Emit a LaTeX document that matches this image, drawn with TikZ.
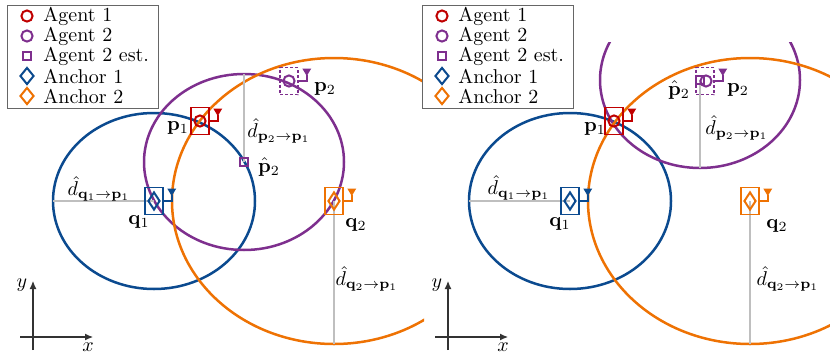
\documentclass[tikz,border=0pt]{standalone}
\usetikzlibrary{shapes.geometric,arrows.meta,calc}
\definecolor{cred}{HTML}{C00000}
\definecolor{cpur}{HTML}{7E2F8E}
\definecolor{cblu}{HTML}{0B4A8F}
\definecolor{corg}{HTML}{EE7203}
\newcommand\myantenna[2]{%
  \draw[#2,line width=0.75pt] (#1.east) -- ++(8,0) coordinate (#1t) -- ++(0,-6);
  \fill[#2] ($(#1t)+(0,-5)$) -- ++(-4.5,-7.5) -- ++(9,0) -- cycle;}
\begin{document}
\begin{tikzpicture}[x=0.5pt,y=-0.5pt,
  rng/.style={line width=1.25pt},
  dist/.style={draw=black!25,line width=0.75pt},
  agentmk/.style={circle,draw=#1,line width=1pt,minimum size=5.6pt,inner sep=0pt},
  estmk/.style={rectangle,draw=#1,line width=1pt,minimum size=4pt,inner sep=0pt},
  anchmk/.style={diamond,draw=#1,line width=1pt,minimum width=6pt,minimum height=9pt,inner sep=0pt},
  leganch/.style={diamond,draw=#1,line width=1pt,minimum width=7pt,minimum height=8.5pt,inner sep=0pt},
  devbox/.style={rectangle,draw=#1,line width=0.75pt,minimum width=9pt,minimum height=13.5pt,inner sep=0pt},
  dashbox/.style={devbox=#1,dash pattern=on 1.5pt off 1pt},
  lab/.style={inner sep=0pt},
  legbox/.style={draw=black!60,line width=0.5pt,minimum width=75.5pt,minimum height=51.5pt,inner sep=0pt},
  legtxt/.style={anchor=west,inner sep=0pt},
  axisln/.style={draw=black!80,line width=0.55pt,-{Latex[length=4pt,width=3.5pt]}},
]
\useasboundingbox (0,0) rectangle (830,354);

% ================= LEFT PANEL =================
\coordinate (q1L) at (154,201);
\coordinate (q2L) at (334,201);
\coordinate (pe2L) at (244,162);
\begin{scope}
  \clip (0,42) rectangle (424,354);
  \draw[rng,cblu] (q1L) ellipse [x radius=101, y radius=88];
  \draw[rng,cpur] (pe2L) ellipse [x radius=100, y radius=88];
  \draw[rng,corg] (q2L) ellipse [x radius=162, y radius=143];
\end{scope}
\coordinate (dq1L) at (53,201);
\coordinate (dp2L) at (244,74);
\coordinate (dq2L) at (334,344);
\draw[dist] (q1L) -- (dq1L);
\draw[dist] (pe2L) -- (dp2L);
\draw[dist] (q2L) -- (dq2L);

\node[devbox=cred] (bp1L) at (200,121) {};
\node[agentmk=cred] (p1L) at (200,121) {};
\myantenna{bp1L}{cred}
\node[dashbox=cpur] (bp2L) at (289,81) {};
\node[agentmk=cpur] (p2L) at (289,81) {};
\myantenna{bp2L}{cpur}
\node[estmk=cpur] (ep2L) at (pe2L) {};
\node[devbox=cblu] (bq1L) at (q1L) {};
\node[anchmk=cblu] (a1L) at (q1L) {};
\myantenna{bq1L}{cblu}
\node[devbox=corg] (bq2L) at (q2L) {};
\node[anchmk=corg] (a2L) at (q2L) {};
\myantenna{bq2L}{corg}

\node[lab] (lp1L) at (178,128) {$\mathbf{p}_1$};
\node[lab] (lp2L) at (325,89) {$\mathbf{p}_2$};
\node[lab] (lpe2L) at (269,167) {$\hat{\mathbf{p}}_2$};
\node[lab] (lq1L) at (139,222) {$\mathbf{q}_1$};
\node[lab] (lq2L) at (356,225) {$\mathbf{q}_2$};
\node[lab] (ldq1L) at (99,189) {$\hat{d}_{\mathbf{q}_1\to\mathbf{p}_1}$};
\node[lab] (ldp2L) at (279,131) {$\hat{d}_{\mathbf{p}_2\to\mathbf{p}_1}$};
\node[lab] (ldq2L) at (367,279) {$\hat{d}_{\mathbf{q}_2\to\mathbf{p}_1}$};

% legend left
\node[legbox,fill=white] (legL) at (82.5,56.5) {};
\node[agentmk=cred] (lm1L) at (27,16) {};
\node[legtxt] (lt1L) at (43,16) {Agent 1};
\node[agentmk=cpur] (lm2L) at (27,36) {};
\node[legtxt] (lt2L) at (43,36) {Agent 2};
\node[estmk=cpur] (lm3L) at (27,56) {};
\node[legtxt] (lt3L) at (43,56) {Agent 2 est.};
\node[leganch=cblu] (lm4L) at (27,76) {};
\node[legtxt] (lt4L) at (43,76) {Anchor 1};
\node[leganch=corg] (lm5L) at (27,96) {};
\node[legtxt] (lt5L) at (43,96) {Anchor 2};

% axes left
\coordinate (ya0L) at (33,350);
\coordinate (ya1L) at (33,281);
\coordinate (xa0L) at (20,337);
\coordinate (xa1L) at (93,337);
\draw[axisln] (ya0L) -- (ya1L);
\draw[axisln] (xa0L) -- (xa1L);
\node[lab] (ylL) at (22,285) {$y$};
\node[lab] (xlL) at (88,347) {$x$};

% ================= RIGHT PANEL =================
\coordinate (q1R) at (570,201);
\coordinate (q2R) at (750,201);
\coordinate (pe2R) at (700,80);
\begin{scope}
  \clip (415,42) rectangle (830,354);
  \draw[rng,cblu] (q1R) ellipse [x radius=101, y radius=88];
  \draw[rng,cpur] (pe2R) ellipse [x radius=100, y radius=88];
  \draw[rng,corg] (q2R) ellipse [x radius=162, y radius=143];
\end{scope}
\coordinate (dq1R) at (469,201);
\coordinate (dp2R) at (700,168);
\coordinate (dq2R) at (750,344);
\draw[dist] (q1R) -- (dq1R);
\draw[dist] (pe2R) -- (dp2R);
\draw[dist] (q2R) -- (dq2R);

\node[devbox=cred] (bp1R) at (614,121) {};
\node[agentmk=cred] (p1R) at (614,121) {};
\myantenna{bp1R}{cred}
\node[dashbox=cpur] (bp2R) at (705,81) {};
\node[estmk=cpur] (ep2R) at (pe2R) {};
\node[agentmk=cpur] (p2R) at (706,81) {};
\myantenna{bp2R}{cpur}
\node[devbox=cblu] (bq1R) at (q1R) {};
\node[anchmk=cblu] (a1R) at (q1R) {};
\myantenna{bq1R}{cblu}
\node[devbox=corg] (bq2R) at (q2R) {};
\node[anchmk=corg] (a2R) at (q2R) {};
\myantenna{bq2R}{corg}

\node[lab] (lp1R) at (595,129) {$\mathbf{p}_1$};
\node[lab] (lp2R) at (738,90) {$\mathbf{p}_2$};
\node[lab] (lpe2R) at (679,90) {$\hat{\mathbf{p}}_2$};
\node[lab] (lq1R) at (560,224) {$\mathbf{q}_1$};
\node[lab] (lq2R) at (777,226) {$\mathbf{q}_2$};
\node[lab] (ldq1R) at (519,188) {$\hat{d}_{\mathbf{q}_1\to\mathbf{p}_1}$};
\node[lab] (ldp2R) at (737,128) {$\hat{d}_{\mathbf{p}_2\to\mathbf{p}_1}$};
\node[lab] (ldq2R) at (788,279) {$\hat{d}_{\mathbf{q}_2\to\mathbf{p}_1}$};

% legend right
\node[legbox,fill=white] (legR) at (497.5,56.5) {};
\node[agentmk=cred] (lm1R) at (442,16) {};
\node[legtxt] (lt1R) at (458,16) {Agent 1};
\node[agentmk=cpur] (lm2R) at (442,36) {};
\node[legtxt] (lt2R) at (458,36) {Agent 2};
\node[estmk=cpur] (lm3R) at (442,56) {};
\node[legtxt] (lt3R) at (458,56) {Agent 2 est.};
\node[leganch=cblu] (lm4R) at (442,76) {};
\node[legtxt] (lt4R) at (458,76) {Anchor 1};
\node[leganch=corg] (lm5R) at (442,96) {};
\node[legtxt] (lt5R) at (458,96) {Anchor 2};

% axes right
\coordinate (ya0R) at (448,350);
\coordinate (ya1R) at (448,281);
\coordinate (xa0R) at (435,337);
\coordinate (xa1R) at (508,337);
\draw[axisln] (ya0R) -- (ya1R);
\draw[axisln] (xa0R) -- (xa1R);
\node[lab] (ylR) at (437,285) {$y$};
\node[lab] (xlR) at (503,347) {$x$};
\end{tikzpicture}
\end{document}
